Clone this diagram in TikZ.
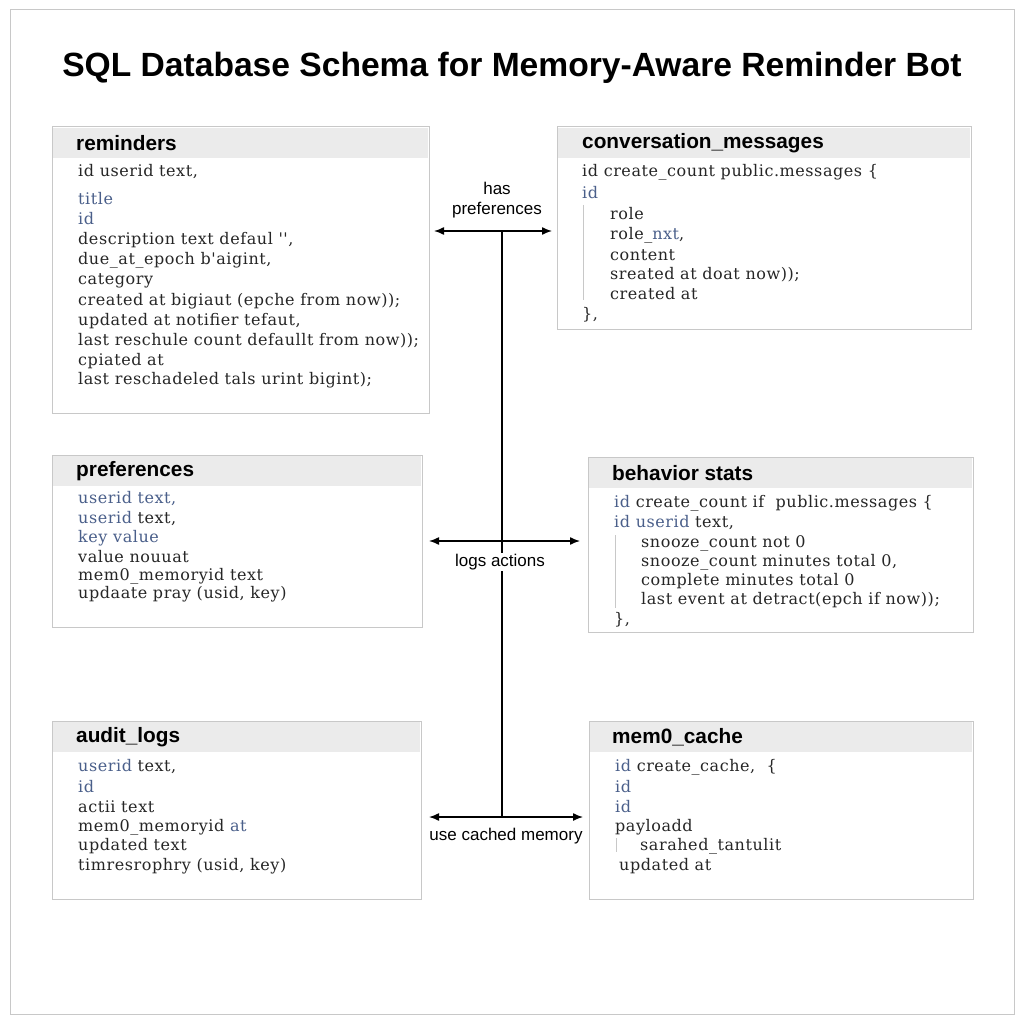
\documentclass[tikz,border=0pt]{standalone}
\usepackage{fontspec}
\setmainfont{Liberation Sans}
\newfontfamily\codef[LetterSpace=3.5]{DejaVu Serif}
\usetikzlibrary{arrows.meta}
\definecolor{hdr}{HTML}{EBEBEB}
\definecolor{bd}{HTML}{C8C8C8}
\definecolor{kw}{HTML}{4A5F8A}
\tikzset{
 tbl/.style={draw=bd,line width=1pt,fill=white},
 hd/.style={fill=hdr},
 ttl/.style={anchor=west,font=\fontsize{20.8}{24}\selectfont\bfseries,inner sep=0pt},
 ln/.style={anchor=west,font=\codef\fontsize{16}{19}\selectfont,inner sep=0pt,text=black!85},
 lab/.style={font=\fontsize{17}{20}\selectfont,align=center,inner sep=1pt},
 rel/.style={line width=1.4pt,{Latex[length=10pt,width=8pt]}-{Latex[length=10pt,width=8pt]}},
 bar/.style={draw=bd,line width=0.8pt}
}
\newcommand{\kb}[1]{\textcolor{kw}{#1}}
\begin{document}
\begin{tikzpicture}[x=1pt,y=-1pt]
\useasboundingbox (0,0) rectangle (1024,1024);
\draw[draw=bd,line width=1pt] (10,10) rectangle (1014,1014);
\node[font=\fontsize{33.6}{38}\selectfont\bfseries] (title) at (512,68) {SQL Database Schema for Memory-Aware Reminder Bot};
% reminders
\draw[tbl] (52,127) rectangle (429,413);
\fill[hdr] (53,128) rectangle (428,158);
\node[ttl] (t1) at (76,143) {reminders};
\node[ln] at (78,172) {id userid text,};
\node[ln] at (78,199) {\kb{title}};
\node[ln] at (78,219) {\kb{id}};
\node[ln] at (78,240) {description text defaul '',};
\node[ln] at (78,260) {due\_at\_epoch b'aigint,};
\node[ln] at (78,281) {category};
\node[ln] at (78,301) {created at bigiaut (epche from now));};
\node[ln] at (78,321) {updated at notifier tefaut,};
\node[ln] at (78,341) {last reschule count defaullt from now));};
\node[ln] at (78,361) {cpiated at};
\node[ln] at (78,380) {last reschadeled tals urint bigint);};
% conversation
\draw[tbl] (557,127) rectangle (971,329);
\fill[hdr] (558,128) rectangle (970,158);
\node[ttl] (t2) at (582,143) {conversation\_messages};
\node[ln] at (582,172) {id create\_count public.messages \{};
\node[ln] at (582,193) {\kb{id}};
\draw[bar] (583,205) -- (583,300);
\node[ln] at (610,214) {role};
\node[ln] at (610,235) {role\_\kb{nxt},};
\node[ln] at (610,255) {content};
\node[ln] at (610,275) {sreated at doat now));};
\node[ln] at (610,294) {created at};
\node[ln] at (582,315) {\},};
% preferences
\draw[tbl] (52,455) rectangle (422,627);
\fill[hdr] (53,456) rectangle (421,486);
\node[ttl] (t3) at (76,471) {preferences};
\node[ln] at (78,499) {\kb{userid text,}};
\node[ln] at (78,519) {\kb{userid} text,};
\node[ln] at (78,538) {\kb{key} \kb{value}};
\node[ln] at (78,557) {value nouuat};
\node[ln] at (78,576) {mem0\_memoryid text};
\node[ln] at (78,594) {updaate pray (usid, key)};
% behavior
\draw[tbl] (588,457) rectangle (973,632);
\fill[hdr] (589,458) rectangle (972,488);
\node[ttl] (t4) at (612,473) {behavior stats};
\node[ln] at (614,503) {\kb{id} create\_count if\ \ public.messages \{};
\node[ln] at (614,523) {\kb{id userid} text,};
\draw[bar] (615,535) -- (615,608);
\node[ln] at (641,543) {snooze\_count not 0};
\node[ln] at (641,562) {snooze\_count minutes total 0,};
\node[ln] at (641,581) {complete minutes total 0};
\node[ln] at (641,600) {last event at detract(epch if now));};
\node[ln] at (614,620) {\},};
% audit
\draw[tbl] (52,721) rectangle (421,899);
\fill[hdr] (53,722) rectangle (420,752);
\node[ttl] (t5) at (76,737) {audit\_logs};
\node[ln] at (78,767) {\kb{userid} text,};
\node[ln] at (78,787) {\kb{id}};
\node[ln] at (78,807) {actii text};
\node[ln] at (78,827) {mem0\_memoryid \kb{at}};
\node[ln] at (78,846) {updated text};
\node[ln] at (78,866) {timresrophry (usid, key)};
% mem0
\draw[tbl] (589,721) rectangle (973,899);
\fill[hdr] (590,722) rectangle (972,752);
\node[ttl] (t6) at (612,737) {mem0\_cache};
\node[ln] at (615,767) {\kb{id} create\_cache,\ \ \{};
\node[ln] at (615,787) {\kb{id}};
\node[ln] at (615,807) {\kb{id}};
\node[ln] at (615,827) {payloadd};
\draw[bar] (616,838) -- (616,852);
\node[ln] at (640,846) {sarahed\_tantulit};
\node[ln] at (619,866) {updated at};
% connectors
\coordinate (top) at (502,231);
\coordinate (mid) at (502,541);
\coordinate (bot) at (502,817);
\coordinate (a1) at (434,231); \coordinate (b1) at (552,231);
\coordinate (a2) at (429,541); \coordinate (b2) at (580,541);
\coordinate (a3) at (429,817); \coordinate (b3) at (583,817);
\draw[line width=1.4pt] (top) -- (bot);
\draw[rel] (a1) -- (b1);
\draw[rel] (a2) -- (b2);
\draw[rel] (a3) -- (b3);
\node[lab] (l1) at (497,200) {has\\preferences};
\node[lab,fill=white] (l2) at (500,562) {logs actions};
\node[lab] (l3) at (506,836) {use cached memory};
\end{tikzpicture}
\end{document}
